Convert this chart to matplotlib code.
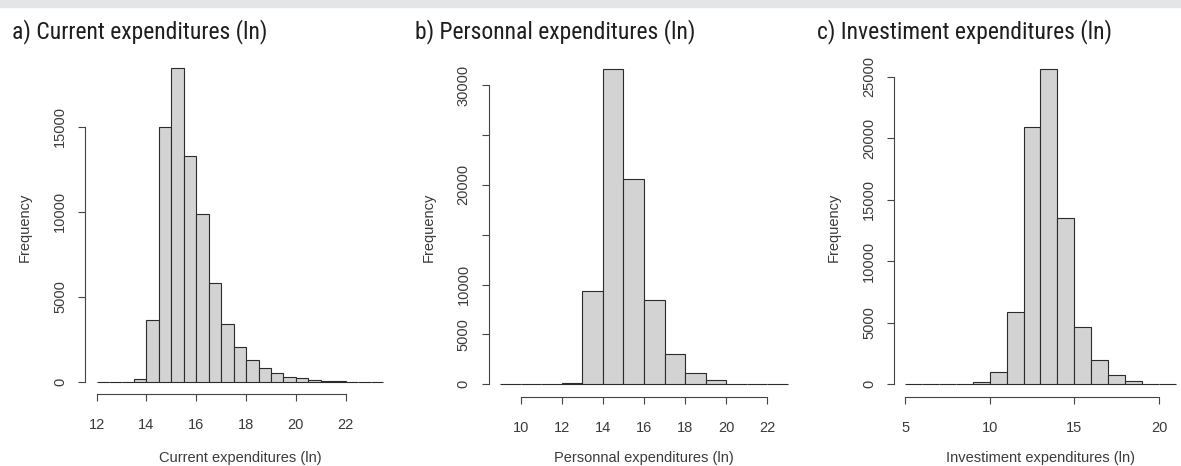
import numpy as np
import matplotlib
matplotlib.use("Agg")
import matplotlib.pyplot as plt
from matplotlib import font_manager as fm

# ---------------- data ----------------
a_edges = [12, 12.5, 13, 13.5, 14, 14.5, 15, 15.5, 16, 16.5, 17, 17.5, 18,
           18.5, 19, 19.5, 20, 20.5, 21, 21.5, 22, 22.5, 23, 23.5]
a_counts = [0, 0, 3, 140, 3650, 15000, 18450, 13250, 9850, 5800, 3390, 2030,
            1280, 790, 530, 275, 200, 100, 45, 15, 8, 4, 2]
a_xticks = [12, 14, 16, 18, 20, 22]
a_yticks = [0, 5000, 10000, 15000]
a_yticklabels = ["0", "5000", "10000", "15000"]

b_edges = [9, 10, 11, 12, 13, 14, 15, 16, 17, 18, 19, 20, 21, 22, 23]
b_counts = [0, 0, 5, 150, 9400, 31550, 20600, 8450, 3000, 1170, 430, 80, 20, 5]
b_xticks = [10, 12, 14, 16, 18, 20, 22]
b_yticks = [0, 5000, 10000, 15000, 20000, 25000, 30000]
b_yticklabels = ["0", "5000", "10000", "", "20000", "", "30000"]

c_edges = [5, 6, 7, 8, 9, 10, 11, 12, 13, 14, 15, 16, 17, 18, 19, 20, 21]
c_counts = [0, 0, 2, 30, 190, 1000, 5850, 20950, 25650, 13530, 4660, 1950,
            730, 240, 60, 10]
c_xticks = [5, 10, 15, 20]
c_yticks = [0, 5000, 10000, 15000, 20000, 25000]
c_yticklabels = ["0", "5000", "10000", "15000", "20000", "25000"]

titles = ["a) Current expenditures (ln)",
          "b) Personnal expenditures (ln)",
          "c) Investiment expenditures (ln)"]
xlabels = ["Current expenditures (ln)",
           "Personnal expenditures (ln)",
           "Investiment expenditures (ln)"]
ylabel = "Frequency"

# ---------------- style ----------------
W, H = 1181, 466
fig = plt.figure(figsize=(W / 100, H / 100), dpi=100)


def has_font(name):
    try:
        fm.findfont(fm.FontProperties(family=name), fallback_to_default=False)
        return True
    except Exception:
        return False


title_family, title_size = "Roboto", 14
for fam, size in [("Roboto Condensed", 17), ("Liberation Sans Narrow", 17),
                  ("Archivo Narrow", 17), ("Barlow Semi Condensed", 16)]:
    if has_font(fam):
        title_family, title_size = fam, size
        break

plain = "Liberation Sans"
text_col = "#3a3a3a"

# top grey band
fig.patches.append(matplotlib.patches.Rectangle((0, 1 - 7 / H), 1, 7 / H,
                   transform=fig.transFigure, color="#e4e5e6", zorder=0))

# axes boxes in pixels (left, top, right, bottom)
boxes = [(85.2, 55.5, 394.5, 394.2),
         (488.6, 56.9, 799.4, 396.9),
         (894.2, 56.2, 1186.7, 396.9)]
title_x = [12, 415, 817]
xlabel_x = [240, 644, 1040]

panels = [(a_edges, a_counts, a_xticks, a_yticks, a_yticklabels),
          (b_edges, b_counts, b_xticks, b_yticks, b_yticklabels),
          (c_edges, c_counts, c_xticks, c_yticks, c_yticklabels)]

for i, (edges, counts, xt, yt, ytl) in enumerate(panels):
    l, t, r, b = boxes[i]
    ax = fig.add_axes([l / W, 1 - b / H, (r - l) / W, (b - t) / H])
    edges = np.asarray(edges, dtype=float)
    counts = np.asarray(counts, dtype=float)
    ax.bar(edges[:-1], counts, width=np.diff(edges), align="edge",
           color="#d3d3d3", edgecolor="#2b2b2b", linewidth=0.8)
    span = edges[-1] - edges[0]
    ax.set_xlim(edges[0] - 0.04 * span, edges[-1] + 0.04 * span)
    ymax = counts.max()
    ax.set_ylim(-0.04 * ymax, 1.04 * ymax)
    for s in ["top", "right"]:
        ax.spines[s].set_visible(False)
    ax.spines["left"].set_bounds(yt[0], yt[-1])
    ax.spines["bottom"].set_bounds(xt[0], xt[-1])
    for s in ["left", "bottom"]:
        ax.spines[s].set_color("#444444")
        ax.spines[s].set_linewidth(0.8)
    ax.set_xticks(xt)
    ax.set_xticklabels([str(v) for v in xt], family=plain, fontsize=10.5,
                       color=text_col)
    ax.set_yticks(yt)
    ax.set_yticklabels(ytl, family=plain, fontsize=10.5, color=text_col,
                       rotation=90, va="center")
    ax.tick_params(axis="both", length=5, width=0.8, color="#444444")
    ax.tick_params(axis="x", pad=12)
    ax.tick_params(axis="y", pad=8)
    ax.set_facecolor("none")
    fig.text(xlabel_x[i] / W, 1 - 458 / H, xlabels[i],
             family=plain, fontsize=10.5, color=text_col, ha="center", va="center")
    fig.text((l - 60) / W, 1 - 227 / H, ylabel, family=plain, fontsize=10.5,
             color=text_col, rotation=90, ha="center", va="center")
    fig.text(title_x[i] / W, 1 - 38.7 / H, titles[i], family=title_family,
             fontsize=title_size, color="#1e1e1e", ha="left", va="baseline")

fig.savefig("out.png", dpi=100)
